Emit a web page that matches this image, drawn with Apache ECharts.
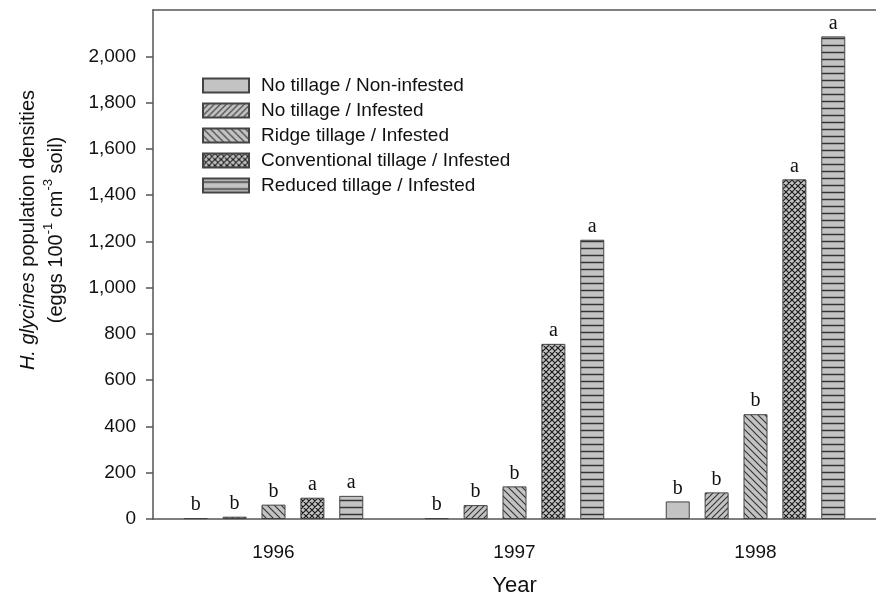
<!DOCTYPE html>
<html>
<head>
<meta charset="utf-8">
<script src="https://cdn.jsdelivr.net/npm/echarts@6/dist/echarts.min.js"></script>
<style>
html, body { margin: 0; padding: 0; background: #fff; }
#chart { width: 876px; height: 602px; }
</style>
</head>
<body>
<div id="chart"></div>
<script>
// data
var years = ['1996', '1997', '1998'];
var seriesNames = [
  'No tillage / Non-infested',
  'No tillage / Infested',
  'Ridge tillage / Infested',
  'Conventional tillage / Infested',
  'Reduced tillage / Infested'
];
var noTillNon = [4, 4, 76];
var noTillInf = [10, 60, 115];
var ridgeInf = [62, 141, 453];
var convInf = [92, 757, 1468];
var reducedInf = [100, 1207, 2086];
var letters = [
  ['b', 'b', 'b'],
  ['b', 'b', 'b'],
  ['b', 'b', 'b'],
  ['a', 'a', 'a'],
  ['a', 'a', 'a']
];
var yTicks = [0, 200, 400, 600, 800, 1000, 1200, 1400, 1600, 1800, 2000];

var FILL = '#c3c3c3';
var INK = '#333';
var TXT = '#111';

// hatch fills drawn on small canvases
function makePattern(kind) {
  var c = document.createElement('canvas');
  var w = 6, h = 6;
  if (kind == 'back') { w = 7; h = 7; }
  if (kind == 'cross') { w = 6; h = 6; }
  if (kind == 'horiz') { w = 4; h = 7; }
  c.width = w; c.height = h;
  var ctx = c.getContext('2d');
  ctx.fillStyle = FILL;
  ctx.fillRect(0, 0, w, h);
  ctx.strokeStyle = INK;
  ctx.lineWidth = 1.1;
  if (kind == 'cross') {
    ctx.strokeStyle = '#1a1a1a';
    ctx.lineWidth = 1.2;
  }
  if (kind == 'horiz') ctx.lineWidth = 1.5;
  ctx.beginPath();
  if (kind == 'fwd' || kind == 'cross') {
    ctx.moveTo(-1, h + 1); ctx.lineTo(w + 1, -1);
    ctx.moveTo(-1, 1); ctx.lineTo(1, -1);
    ctx.moveTo(w - 1, h + 1); ctx.lineTo(w + 1, h - 1);
  }
  if (kind == 'back' || kind == 'cross') {
    ctx.moveTo(-1, -1); ctx.lineTo(w + 1, h + 1);
    ctx.moveTo(w - 1, -1); ctx.lineTo(w + 1, 1);
    ctx.moveTo(-1, h - 1); ctx.lineTo(1, h + 1);
  }
  if (kind == 'horiz') {
    ctx.moveTo(0, 3.5); ctx.lineTo(w, 3.5);
  }
  ctx.stroke();
  return { image: c, repeat: 'repeat' };
}

var fills = [FILL, makePattern('fwd'), makePattern('back'), makePattern('cross'), makePattern('horiz')];
var values = [noTillNon, noTillInf, ridgeInf, convInf, reducedInf];

var series = [];
for (var i = 0; i < values.length; i++) {
  (function (k) {
    series.push({
      name: seriesNames[k],
      type: 'bar',
      data: values[k],
      barWidth: 24,
      barGap: '62%',
      itemStyle: { color: fills[k], borderColor: '#444', borderWidth: 1 },
      label: {
        show: true,
        position: 'top',
        distance: 3,
        fontFamily: 'Liberation Serif',
        fontSize: 20,
        color: TXT,
        formatter: function (p) { return letters[k][p.dataIndex]; }
      },
      emphasis: { disabled: true }
    });
  })(i);
}

var myChart = echarts.init(document.getElementById('chart'), null, { renderer: 'canvas' });

var axisLine = { lineStyle: { color: '#555', width: 1.5 } };

var option = {
  animation: false,
  backgroundColor: '#fff',
  grid: {
    left: 153,
    top: 10,
    width: 731,
    height: 510
  },
  legend: {
    orient: 'vertical',
    left: 197,
    top: 71,
    itemWidth: 46,
    itemHeight: 14,
    itemGap: 6,
    icon: 'rect',
    data: seriesNames,
    textStyle: { fontFamily: 'Liberation Sans', fontSize: 19, color: TXT, padding: [0, 0, 0, 7] },
    selectedMode: false
  },
  xAxis: [{
    type: 'category',
    data: years,
    boundaryGap: true,
    axisLine: axisLine,
    axisTick: { alignWithLabel: true, length: 7, lineStyle: { color: '#555', width: 1.5 } },
    axisLabel: { margin: 24, fontFamily: 'Liberation Sans', fontSize: 19, color: TXT },
    name: 'Year',
    nameLocation: 'middle',
    nameGap: 56,
    nameTextStyle: { fontFamily: 'Liberation Sans', fontSize: 22, color: TXT, verticalAlign: 'top' }
  }, {
    // top frame line only
    type: 'category',
    position: 'top',
    data: years,
    axisLine: axisLine,
    axisTick: { show: false },
    axisLabel: { show: false }
  }],
  yAxis: {
    type: 'value',
    min: 0,
    max: 2200,
    interval: 200,
    splitLine: { show: false },
    axisLine: { show: true, lineStyle: { color: '#555', width: 1.5 } },
    axisTick: { show: true, length: 7, customValues: yTicks, lineStyle: { color: '#555', width: 1.5 } },
    axisLabel: {
      margin: 17,
      customValues: yTicks,
      fontFamily: 'Liberation Sans',
      fontSize: 19,
      color: TXT,
      formatter: function (v) { return v.toLocaleString('en-US'); }
    }
  },
  graphic: [{
    type: 'text',
    x: 42,
    y: 230,
    rotation: Math.PI / 2,
    style: {
      text: '{i|H. glycines} population densities\n(eggs 100{s|-1} cm{s|-3} soil)',
      align: 'center',
      verticalAlign: 'middle',
      fontFamily: 'Liberation Sans',
      fontSize: 20,
      lineHeight: 28,
      fill: TXT,
      rich: {
        i: { fontStyle: 'italic', fontFamily: 'Liberation Sans', fontSize: 20, lineHeight: 28, fill: TXT },
        s: { fontFamily: 'Liberation Sans', fontSize: 13, lineHeight: 14, verticalAlign: 'top', fill: TXT }
      }
    }
  }],
  series: series
};

myChart.setOption(option);
</script>
</body>
</html>
